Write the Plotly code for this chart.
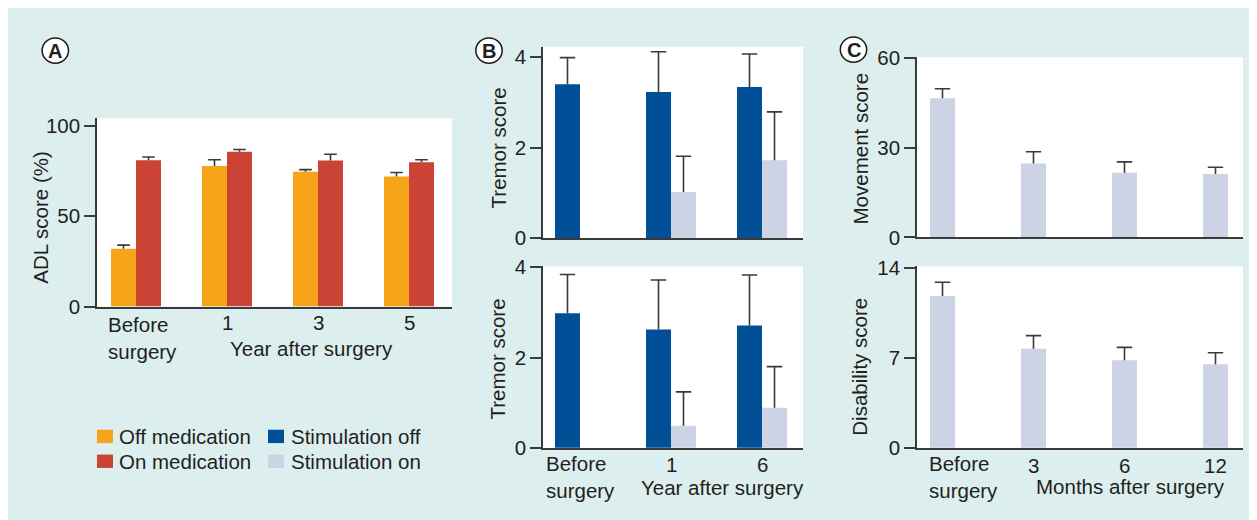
import plotly.graph_objects as go

# page body margin (8 px) is accounted for: figure is drawn 8 px in from the top-left
OFF = 8
W, H = 1257 - OFF, 520 - OFF

# ---------------- data ----------------
adl_labels = ["Before<br>surgery", "1", "3", "5"]
adl_off = [32.0, 77.8, 74.6, 72.0]
adl_off_err = [2.0, 3.5, 1.2, 2.2]
adl_on = [81.0, 85.7, 80.8, 79.9]
adl_on_err = [1.8, 1.3, 3.5, 1.4]

tremor_labels = ["Before<br>surgery", "1", "6"]
tremor_top_off = [3.40, 3.23, 3.34]
tremor_top_off_err = [0.59, 0.89, 0.73]
tremor_top_on = [None, 1.02, 1.72]
tremor_top_on_err = [None, 0.79, 1.07]
tremor_bot_off = [2.98, 2.62, 2.71]
tremor_bot_off_err = [0.86, 1.10, 1.12]
tremor_bot_on = [None, 0.49, 0.89]
tremor_bot_on_err = [None, 0.75, 0.91]

months_labels = ["Before<br>surgery", "3", "6", "12"]
movement = [46.4, 24.7, 21.6, 21.2]
movement_err = [3.2, 3.9, 3.6, 2.2]
disability = [11.8, 7.7, 6.8, 6.5]
disability_err = [1.07, 1.02, 1.01, 0.89]

legend_items = [("Off medication", "#F6A51B"), ("On medication", "#CB4335"),
                ("Stimulation off", "#014F96"), ("Stimulation on", "#CCD3E5")]

# ---------------- style ----------------
C_OFFMED, C_ONMED, C_STOFF, C_STON = [c for _, c in legend_items]
TEXT = "#231f20"
AXC = "#3a3a3a"
TEAL = "#DDEEEE"
FONT = "Liberation Sans, Arial, sans-serif"
FS = 20.5
BW = 25 / 91.0  # bar width in category units


def fx(px):
    return (px - OFF) / W


def fy(py):
    return 1 - (py - OFF) / H


fig = go.Figure()


def add_bar(ys, errs, color, offset, xa, ya, capw):
    xs = list(range(len(ys)))
    fig.add_trace(go.Bar(
        x=xs, y=ys, width=BW, offset=offset, marker=dict(color=color, line=dict(width=0)),
        error_y=dict(type="data", symmetric=False, array=[e if e is not None else 0 for e in errs],
                     arrayminus=[0] * len(errs), color=AXC, thickness=1.6, width=0),
        xaxis=xa, yaxis=ya, showlegend=False, hoverinfo="skip"))
    # caps of the error bars
    cx, cy = [], []
    for i, (v, e) in enumerate(zip(ys, errs)):
        if v is None:
            continue
        cx.append(i + offset + BW / 2)
        cy.append(v + e)
    fig.add_trace(go.Scatter(
        x=cx, y=cy, mode="markers", xaxis=xa, yaxis=ya, showlegend=False, hoverinfo="skip",
        marker=dict(symbol="line-ew", size=capw, line=dict(color=AXC, width=1.6))))


# Panel A
add_bar(adl_off, adl_off_err, C_OFFMED, -BW, "x", "y", 9)
add_bar(adl_on, adl_on_err, C_ONMED, 0, "x", "y", 9)
# Panel B
add_bar(tremor_top_off, tremor_top_off_err, C_STOFF, -BW, "x2", "y2", 11)
add_bar(tremor_top_on, tremor_top_on_err, C_STON, 0, "x2", "y2", 11)
add_bar(tremor_bot_off, tremor_bot_off_err, C_STOFF, -BW, "x3", "y3", 11)
add_bar(tremor_bot_on, tremor_bot_on_err, C_STON, 0, "x3", "y3", 11)
# Panel C
add_bar(movement, movement_err, C_STON, -BW / 2, "x4", "y4", 11)
add_bar(disability, disability_err, C_STON, -BW / 2, "x5", "y5", 11)


def xax(px0, px1, center0, anchor):
    return dict(domain=[fx(px0), fx(px1)],
                range=[(px0 - center0) / 91.0, (px1 - center0) / 91.0],
                showline=True, linecolor=AXC, linewidth=1.5, ticks="",
                showticklabels=False, showgrid=False, zeroline=False, fixedrange=True,
                anchor=anchor)


def yax(py0, py1, top, tickvals, anchor):
    return dict(domain=[fy(py1), fy(py0)], range=[0, top], tickvals=tickvals,
                showline=True, linecolor=AXC, linewidth=1.5, ticks="outside",
                ticklen=11, tickwidth=1.5, tickcolor=AXC, showgrid=False, zeroline=False,
                tickfont=dict(family=FONT, size=FS, color=TEXT), anchor=anchor, fixedrange=True)


fig.update_layout(
    width=W, height=H, margin=dict(l=0, r=0, t=0, b=0),
    paper_bgcolor=TEAL, plot_bgcolor="white", barmode="overlay",
    font=dict(family=FONT, size=FS, color=TEXT),
    xaxis=xax(97, 452, 136, "y"),
    yaxis=yax(111, 308, 104.2, [0, 50, 100], "x"),
    xaxis2=xax(543, 803, 580, "y2"),
    yaxis2=yax(36, 236.3, 4.23, [0, 2, 4], "x2"),
    xaxis3=xax(543, 803, 580, "y3"),
    yaxis3=yax(266, 456, 4.02, [0, 2, 4], "x3"),
    xaxis4=xax(917, 1243, 942.5, "y4"),
    yaxis4=yax(47, 235.7, 60.1, [0, 30, 60], "x4"),
    xaxis5=xax(917, 1243, 942.5, "y5"),
    yaxis5=yax(266, 456, 14.1, [0, 7, 14], "x5"),
)

shapes = []
ann = []


def txt(text, px, py, size=FS, xanchor="center", align="center", angle=0, bold=False,
        xref="paper", xval=None):
    ann.append(dict(text=("<b>%s</b>" % text) if bold else text,
                    x=xval if xval is not None else fx(px), y=fy(py),
                    xref=xref, yref="paper", xanchor=xanchor, yanchor="middle", align=align,
                    showarrow=False, textangle=angle,
                    font=dict(family=FONT, size=size, color=TEXT)))


# panel letters
for letter, cx, cy in [("A", 55.3, 40), ("B", 489, 40), ("C", 853.5, 39)]:
    r = 13.2
    shapes.append(dict(type="circle", xref="paper", yref="paper", x0=fx(cx - r), x1=fx(cx + r),
                       y0=fy(cy + r), y1=fy(cy - r), fillcolor="white",
                       line=dict(color="#1a1a1a", width=1.5)))
    txt(letter, cx, cy + 0.5, size=20, bold=True)

# y-axis titles
txt("ADL score (%)", 41, 215, angle=-90)
txt("Tremor score", 498, 142.5, angle=-90)
txt("Tremor score", 498, 363.5, angle=-90)
txt("Movement score", 860, 142.5, angle=-90)
txt("Disability score", 860, 371, angle=-90)


# x tick labels (category text from arrays)
def xlabels(labels, xref, py_num, py_before, before_shift):
    for i, lab in enumerate(labels):
        if "<br>" in lab:
            txt(lab, 0, py_before, xanchor="center", align="left", xref=xref, xval=before_shift)
        else:
            txt(lab, 0, py_num, xref=xref, xval=i)


xlabels(adl_labels, "x", 324.5, 341, 6.5 / 91)
xlabels(tremor_labels, "x3", 473, 486, 0)
xlabels(months_labels, "x5", 474, 486, 20.5 / 91)

# x-axis titles
txt("Year after surgery", 311.5, 351.5)
txt("Year after surgery", 722, 497)
txt("Months after surgery", 1130.5, 496)

# legend
for i, (name, color) in enumerate(legend_items):
    col, row = divmod(i, 2)
    sx = [97, 268][col]
    sy = [437, 463][row]
    shapes.append(dict(type="rect", xref="paper", yref="paper", x0=fx(sx), x1=fx(sx + 16),
                       y0=fy(sy + 14), y1=fy(sy), fillcolor=color, line=dict(width=0)))
    txt(name, [117, 289][col], [444, 470][row], xanchor="left", align="left")

fig.update_layout(shapes=shapes, annotations=ann)
fig.write_html("out.html")
